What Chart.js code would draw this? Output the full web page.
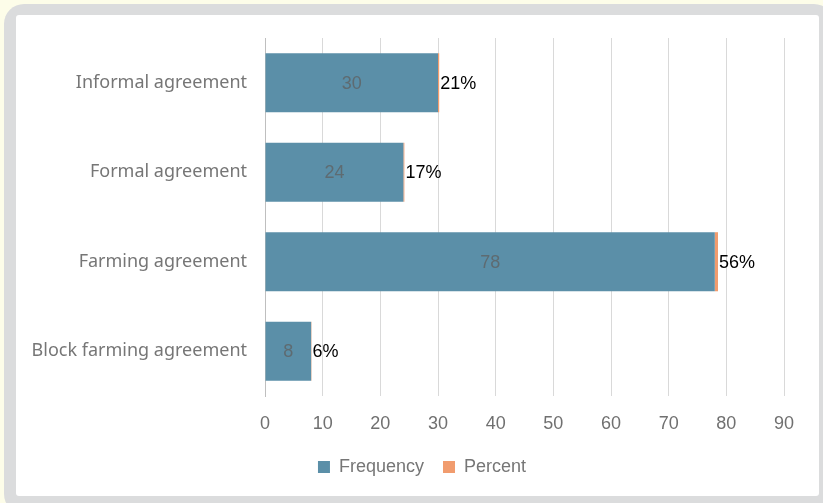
<!DOCTYPE html>
<html>
<head>
<meta charset="utf-8">
<script src="https://cdn.jsdelivr.net/npm/chart.js@4.4.1/dist/chart.umd.min.js"></script>
<style>
  html, body { margin: 0; padding: 0; background: #fdfde9; width: 823px; height: 503px; overflow: hidden; }
  #outer { position: absolute; left: 4px; top: 4px; width: 830px; height: 510px; background: #dbdcdd; border-radius: 20px; }
  #inner { position: absolute; left: 16px; top: 15px; width: 803px; height: 481px; background: #ffffff; border-radius: 3px; }
  #c { position: absolute; left: 0; top: 0; }
</style>
</head>
<body>
<div id="outer"></div>
<div id="inner"></div>
<canvas id="c" width="823" height="503"></canvas>
<script>
const categories = ["Informal agreement", "Formal agreement", "Farming agreement", "Block farming agreement"];
const frequency = [30, 24, 78, 8];
const percent = [0.21, 0.17, 0.56, 0.06];
const percentLabels = ["21%", "17%", "56%", "6%"];
const xTicks = [0, 10, 20, 30, 40, 50, 60, 70, 80, 90];

const labelPlugin = {
  id: 'barLabels',
  afterLayout(chart) {
    const lg = chart.legend;
    if (lg && !lg._shifted) {
      lg.left += 30; lg.right += 30;
      lg._shifted = true;
    }
  },
  afterDatasetsDraw(chart) {
    const ctx = chart.ctx;
    ctx.save();
    ctx.font = '18px "Liberation Sans", Arial, sans-serif';
    ctx.textBaseline = 'middle';
    const m0 = chart.getDatasetMeta(0);
    m0.data.forEach((el, i) => {
      ctx.fillStyle = '#5e6b71';
      ctx.textAlign = 'center';
      ctx.fillText(String(frequency[i]), (el.base + el.x) / 2, el.y + 1);
    });
    const m1 = chart.getDatasetMeta(1);
    m1.data.forEach((el, i) => {
      ctx.fillStyle = '#000000';
      ctx.textAlign = 'left';
      ctx.fillText(percentLabels[i], el.x + 1, el.y + 1);
    });
    ctx.restore();
  }
};

new Chart(document.getElementById('c'), {
  type: 'bar',
  data: {
    labels: categories,
    datasets: [
      { label: 'Frequency', data: frequency, backgroundColor: '#5b8fa8', barPercentage: 0.66, categoryPercentage: 1 },
      { label: 'Percent', data: percent, backgroundColor: '#f19c6e', barPercentage: 0.66, categoryPercentage: 1 }
    ]
  },
  options: {
    indexAxis: 'y',
    responsive: false,
    animation: false,
    devicePixelRatio: 1,
    layout: { padding: { top: 38, right: 39, left: 0, bottom: 17 } },
    scales: {
      x: {
        stacked: true,
        min: 0, max: 90,
        afterBuildTicks(scale) { scale.ticks = xTicks.map(v => ({ value: v })); },
        afterFit(scale) { scale.height = 43; },
        grid: { color: '#d9d9d9', drawTicks: false },
        border: { display: false },
        ticks: { padding: 17, color: '#707070', font: { family: '"Liberation Sans", Arial, sans-serif', size: 18 } }
      },
      y: {
        stacked: true,
        afterFit(scale) { scale.width = 265; },
        grid: { display: false, drawTicks: false },
        border: { display: true, color: '#bfbfbf', width: 1 },
        ticks: { padding: 18, color: '#767676', font: { family: '"Noto Sans", sans-serif', size: 18 } }
      }
    },
    plugins: {
      legend: {
        position: 'bottom',
        labels: {
          boxWidth: 12, boxHeight: 12, padding: 19,
          color: '#767676',
          font: { family: '"Liberation Sans", Arial, sans-serif', size: 18 }
        }
      },
      tooltip: { enabled: false }
    }
  },
  plugins: [labelPlugin]
});
</script>
</body>
</html>
